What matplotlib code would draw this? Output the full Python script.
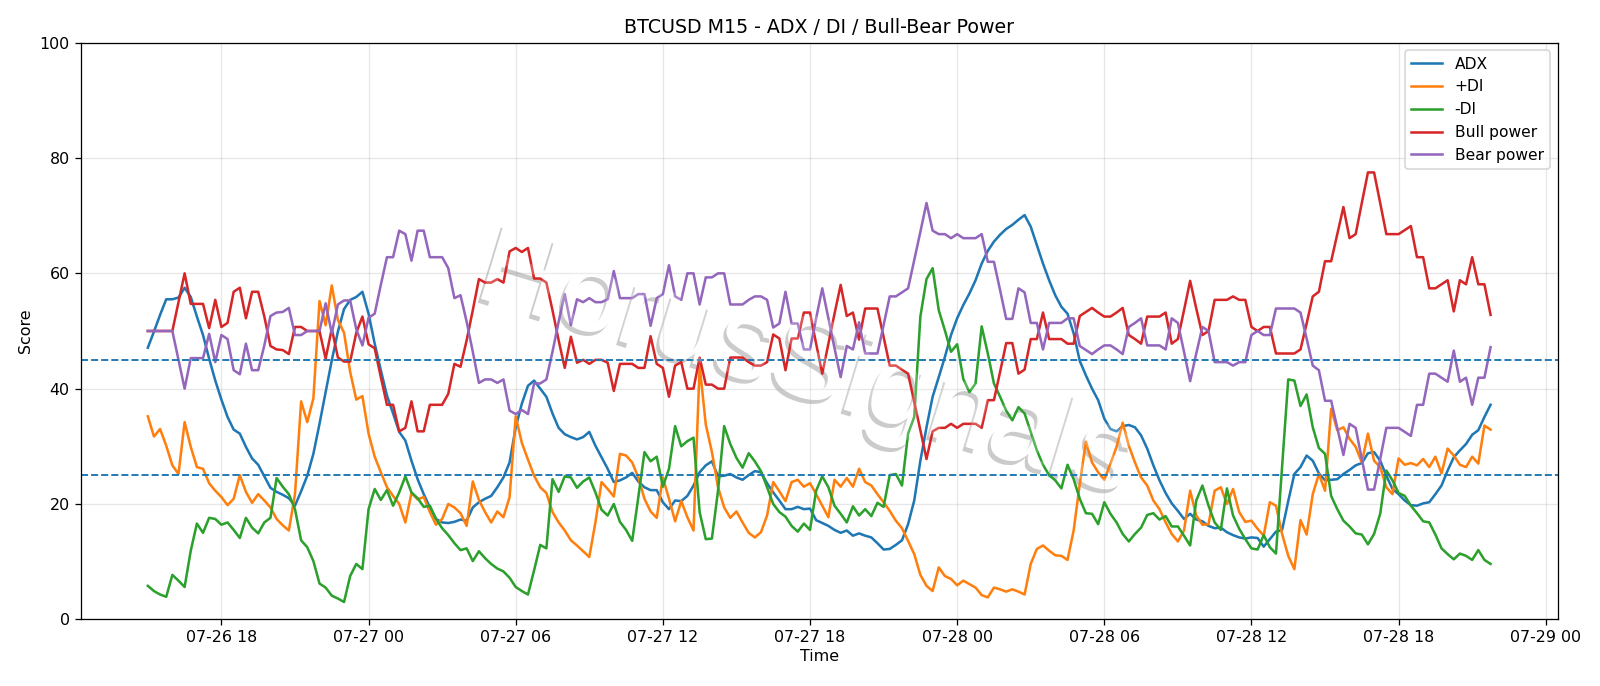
import matplotlib
matplotlib.use("Agg")
import matplotlib.pyplot as plt
import matplotlib.dates as mdates
import matplotlib.patheffects as pe
import pandas as pd

# 15-minute bars
start_time = "2025-07-26 15:00"
bar_count = 220

adx = [
    47.1, 49.9, 52.8, 55.5, 55.5, 55.8, 57.5, 55.9, 52.5, 49.3,
    45.2, 41.4, 38.1, 35.1, 32.9, 32.2, 29.9, 27.9, 26.8, 24.8,
    22.8, 22.1, 21.6, 21.0, 19.7, 22.2, 24.9, 28.7, 33.9, 39.4,
    44.9, 49.9, 53.8, 55.4, 55.9, 56.8, 53.0, 47.8, 43.2, 38.8,
    35.7, 32.5, 31.0, 27.5, 24.3, 21.7, 19.4, 17.4, 16.8, 16.7,
    16.9, 17.3, 17.1, 19.4, 20.3, 20.9, 21.4, 22.9, 24.6, 27.2,
    33.3, 37.4, 40.5, 41.4, 40.0, 38.6, 35.7, 33.2, 32.1, 31.6,
    31.2, 31.6, 32.5, 30.1, 28.1, 26.1, 23.8, 24.1, 24.6, 25.4,
    23.9, 22.9, 22.4, 22.4, 20.3, 19.1, 20.6, 20.5, 21.4, 23.2,
    25.5, 26.7, 27.4, 24.8, 24.9, 25.2, 24.6, 24.2, 25.0, 25.7,
    25.5, 23.6, 22.0, 20.6, 19.1, 19.1, 19.5, 19.1, 19.2, 17.2,
    16.7, 16.2, 15.5, 15.0, 15.4, 14.5, 14.9, 14.5, 14.2, 13.2,
    12.1, 12.2, 12.9, 13.7, 16.5, 20.6, 27.5, 33.3, 38.6, 42.0,
    45.5, 49.3, 52.2, 54.5, 56.5, 58.8, 61.7, 63.9, 65.5, 66.7,
    67.7, 68.4, 69.3, 70.1, 68.1, 64.9, 61.7, 58.8, 56.2, 54.2,
    53.0, 49.6, 44.8, 42.3, 40.0, 38.0, 34.8, 33.0, 32.6, 33.5,
    33.7, 33.3, 31.9, 29.6, 26.7, 24.1, 21.9, 20.1, 18.8, 17.4,
    18.3, 17.3, 17.0, 16.2, 15.8, 15.9, 15.1, 14.6, 14.2, 14.0,
    14.2, 14.1, 12.6, 13.9, 15.2, 15.5, 20.5, 25.2, 26.4, 28.4,
    27.5, 25.3, 24.1, 24.2, 24.3, 25.2, 25.9, 26.7, 27.1, 28.8,
    29.0, 27.5, 24.9, 22.6, 21.7, 20.6, 19.8, 19.7, 20.1, 20.3,
    21.7, 23.2, 25.8, 28.1, 29.3, 30.4, 32.0, 32.8, 35.1, 37.2,
]

plus_di = [
    35.2, 31.7, 33.0, 30.1, 26.7, 25.2, 34.2, 29.9, 26.4, 26.1,
    23.6, 22.3, 21.2, 19.8, 20.9, 25.0, 22.1, 20.2, 21.7, 20.6,
    19.4, 17.4, 16.3, 15.4, 21.7, 37.8, 34.2, 38.3, 55.2, 51.0,
    57.9, 51.9, 49.7, 42.9, 38.1, 38.7, 32.2, 28.2, 25.5, 22.9,
    21.4, 20.0, 16.8, 21.9, 20.8, 21.2, 18.6, 16.4, 17.4, 20.0,
    19.4, 18.4, 16.2, 23.9, 20.7, 18.6, 16.8, 18.7, 17.7, 21.2,
    35.2, 30.6, 27.7, 24.9, 22.9, 21.9, 18.6, 16.8, 15.4, 13.7,
    12.8, 11.8, 10.8, 16.8, 23.8, 22.6, 21.3, 28.7, 28.4, 27.2,
    24.6, 20.9, 18.7, 17.6, 24.6, 20.9, 17.0, 20.5, 17.7, 15.4,
    44.0, 33.8, 29.0, 22.9, 19.4, 17.6, 18.7, 16.8, 15.0, 14.2,
    15.1, 18.0, 23.8, 22.2, 20.5, 23.8, 24.2, 23.0, 23.6, 21.7,
    19.7, 17.7, 24.2, 23.0, 24.5, 23.0, 26.1, 23.8, 23.2, 21.7,
    20.3, 18.8, 17.1, 15.8, 13.6, 11.3, 7.7, 5.8, 4.9, 9.0,
    7.5, 7.0, 5.9, 6.7, 6.1, 5.5, 4.2, 3.8, 5.5, 5.2,
    4.8, 5.2, 4.8, 4.3, 9.6, 12.2, 12.8, 11.9, 11.1, 11.0,
    10.3, 15.4, 23.5, 30.8, 27.2, 25.5, 24.2, 27.0, 29.9, 34.1,
    30.1, 27.2, 24.6, 23.2, 20.6, 19.1, 16.8, 14.8, 13.5, 15.4,
    22.3, 18.0, 16.4, 16.5, 22.3, 22.9, 20.0, 22.6, 18.6, 16.9,
    17.1, 15.7, 14.5, 20.3, 19.7, 14.8, 11.0, 8.7, 17.2, 14.7,
    21.7, 25.2, 22.3, 36.5, 32.8, 33.3, 31.3, 29.9, 27.2, 32.2,
    27.5, 26.4, 22.9, 21.7, 27.9, 26.8, 27.1, 26.7, 27.8, 26.4,
    28.2, 25.3, 29.6, 28.4, 26.8, 26.4, 28.2, 27.0, 33.6, 32.9,
]

minus_di = [
    5.8, 4.9, 4.3, 3.9, 7.7, 6.7, 5.6, 11.9, 16.6, 15.0,
    17.6, 17.4, 16.4, 16.8, 15.5, 14.1, 17.6, 15.9, 14.9, 16.8,
    17.6, 24.5, 23.0, 21.7, 19.1, 13.7, 12.5, 10.1, 6.2, 5.5,
    4.1, 3.6, 3.0, 7.5, 9.6, 8.7, 19.1, 22.6, 20.7, 22.4,
    19.7, 22.0, 24.8, 22.0, 21.0, 19.5, 19.7, 17.4, 15.8, 14.6,
    13.2, 12.0, 12.3, 10.1, 11.8, 10.6, 9.6, 8.8, 8.3, 7.2,
    5.6, 4.9, 4.3, 8.5, 12.9, 12.3, 24.3, 22.1, 24.8, 24.6,
    22.8, 23.9, 24.6, 22.0, 19.0, 18.0, 20.0, 16.9, 15.5, 13.6,
    21.2, 29.0, 27.4, 28.2, 23.0, 26.1, 33.5, 30.0, 30.9, 31.5,
    18.6, 13.9, 14.0, 22.3, 33.5, 30.4, 28.0, 26.3, 28.8, 27.4,
    25.7, 22.9, 20.0, 18.6, 17.8, 16.2, 15.2, 16.6, 15.5, 22.3,
    24.8, 22.9, 19.7, 18.3, 16.8, 19.6, 18.0, 19.1, 17.9, 20.2,
    19.5, 25.0, 25.2, 23.2, 32.2, 35.1, 52.5, 59.0, 60.9, 53.6,
    50.1, 46.4, 47.7, 41.7, 39.4, 40.9, 50.8, 46.1, 40.9, 38.6,
    36.2, 34.5, 36.8, 35.7, 32.5, 29.3, 26.8, 25.0, 24.1, 22.7,
    26.8, 24.3, 20.9, 18.4, 18.3, 16.5, 20.3, 18.3, 16.8, 14.8,
    13.5, 14.8, 15.9, 18.1, 18.4, 17.3, 17.9, 16.1, 16.1, 14.5,
    12.8, 20.6, 23.2, 19.7, 16.8, 15.5, 22.7, 18.0, 15.7, 13.9,
    12.3, 12.1, 14.6, 12.5, 11.4, 26.4, 41.6, 41.4, 37.0, 39.0,
    33.3, 29.7, 28.7, 21.4, 19.1, 17.1, 16.1, 14.9, 14.7, 13.0,
    14.8, 18.3, 25.8, 24.1, 21.9, 21.4, 19.7, 18.4, 17.0, 16.8,
    14.7, 12.3, 11.3, 10.4, 11.4, 11.0, 10.3, 12.0, 10.3, 9.6,
]

bull_power = [
    50, 50, 50, 50, 50, 55, 60, 54.7, 54.7, 54.7,
    50.5, 55.4, 50.7, 51.4, 56.8, 57.5, 52.2, 56.8, 56.8, 52.5,
    47.4, 46.8, 46.7, 46, 50.7, 50.7, 50, 50, 50, 45.2,
    50.4, 45.4, 44.7, 44.7, 49.7, 52.5, 47.7, 47, 42, 37.2,
    37.2, 32.6, 33.2, 37.8, 32.6, 32.6, 37.2, 37.2, 37.2, 39.1,
    44.3, 43.8, 48.4, 53.6, 59, 58.4, 58.4, 59, 58.4, 63.8,
    64.4, 63.7, 64.4, 59.1, 59.1, 58.4, 53.6, 48.4, 43.6, 49,
    44.5, 45, 44.3, 45, 45, 44.5, 39.6, 44.3, 44.3, 44.3,
    43.6, 43.6, 49.1, 44.3, 43.6, 38.6, 44, 44.6, 40, 40,
    45.4, 40.7, 40.7, 40, 40, 45.4, 45.4, 45.4, 44.6, 44,
    44, 44.6, 49.4, 48.7, 43.2, 48.7, 48.7, 53.2, 53.2, 47.8,
    42.6, 47.8, 53, 58, 52.6, 53.2, 48.5, 53.9, 53.9, 53.9,
    49, 44, 44, 43.3, 42.6, 37.7, 32.8, 27.8, 32.6, 33.2,
    33.2, 33.9, 33.2, 33.9, 33.9, 33.9, 33.2, 38, 38, 42.9,
    47.9, 47.9, 42.6, 43.3, 48.6, 48.6, 53.2, 48.6, 48.6, 48.6,
    47.8, 47.8, 52.6, 53.3, 54, 53.2, 52.5, 52.5, 53.2, 54,
    49.3, 48.6, 47.8, 52.5, 52.5, 52.5, 53.2, 47.8, 48.6, 53.6,
    58.7, 53.9, 49.3, 50, 55.4, 55.4, 55.4, 56, 55.4, 55.4,
    50.7, 50, 50.7, 50.7, 46.1, 46.1, 46.1, 46.1, 46.8, 51.3,
    56, 56.8, 62.1, 62.1, 66.8, 71.5, 66.1, 66.8, 72.2, 77.5,
    77.5, 72.2, 66.8, 66.8, 66.8, 67.5, 68.2, 62.8, 62.8, 57.4,
    57.4, 58.1, 58.8, 53.4, 58.8, 58.1, 62.8, 58.1, 58.1, 52.8,
]

bear_power = [
    50, 50, 50, 50, 50, 45, 40, 45.3, 45.3, 45.3,
    49.5, 44.6, 49.3, 48.6, 43.2, 42.5, 47.8, 43.2, 43.2, 47.5,
    52.6, 53.2, 53.3, 54, 49.3, 49.3, 50, 50, 50, 54.8,
    49.6, 54.6, 55.3, 55.3, 50.3, 47.5, 52.3, 53, 58, 62.8,
    62.8, 67.4, 66.8, 62.2, 67.4, 67.4, 62.8, 62.8, 62.8, 60.9,
    55.7, 56.2, 51.6, 46.4, 41, 41.6, 41.6, 41, 41.6, 36.2,
    35.6, 36.3, 35.6, 40.9, 40.9, 41.6, 46.4, 51.6, 56.4, 51,
    55.5, 55, 55.7, 55, 55, 55.5, 60.4, 55.7, 55.7, 55.7,
    56.4, 56.4, 50.9, 55.7, 56.4, 61.4, 56, 55.4, 60, 60,
    54.6, 59.3, 59.3, 60, 60, 54.6, 54.6, 54.6, 55.4, 56,
    56, 55.4, 50.6, 51.3, 56.8, 51.3, 51.3, 46.8, 46.8, 52.2,
    57.4, 52.2, 47, 42, 47.4, 46.8, 51.5, 46.1, 46.1, 46.1,
    51, 56, 56, 56.7, 57.4, 62.3, 67.2, 72.2, 67.4, 66.8,
    66.8, 66.1, 66.8, 66.1, 66.1, 66.1, 66.8, 62, 62, 57.1,
    52.1, 52.1, 57.4, 56.7, 51.4, 51.4, 46.8, 51.4, 51.4, 51.4,
    52.2, 52.2, 47.4, 46.7, 46, 46.8, 47.5, 47.5, 46.8, 46,
    50.7, 51.4, 52.2, 47.5, 47.5, 47.5, 46.8, 52.2, 51.4, 46.4,
    41.3, 46.1, 50.7, 50, 44.6, 44.6, 44.6, 44, 44.6, 44.6,
    49.3, 50, 49.3, 49.3, 53.9, 53.9, 53.9, 53.9, 53.2, 48.7,
    44, 43.2, 37.9, 37.9, 33.2, 28.5, 33.9, 33.2, 27.8, 22.5,
    22.5, 27.8, 33.2, 33.2, 33.2, 32.5, 31.8, 37.2, 37.2, 42.6,
    42.6, 41.9, 41.2, 46.6, 41.2, 41.9, 37.2, 41.9, 41.9, 47.2,
]

threshold_levels = [25, 45]

times = pd.date_range(start_time, periods=bar_count, freq="15min")

fig = plt.figure(figsize=(1600 / 114.2857, 686 / 114.2857), dpi=114.2857)
ax = fig.add_axes([80.7 / 1600, 1 - 619.3 / 686, (1557.7 - 80.7) / 1600, (619.3 - 42.7) / 686])

line_width = 1.6
ax.plot(times, adx, linewidth=line_width, label="ADX")
ax.plot(times, plus_di, linewidth=line_width, label="+DI")
ax.plot(times, minus_di, linewidth=line_width, label="-DI")
ax.plot(times, bull_power, linewidth=line_width, label="Bull power")
ax.plot(times, bear_power, linewidth=line_width, label="Bear power")
for level in threshold_levels:
    ax.axhline(level, linestyle="--", linewidth=1.2)

ax.set_ylim(0, 100)
ax.set_title("BTCUSD M15 - ADX / DI / Bull-Bear Power", fontsize=12)
ax.set_xlabel("Time", labelpad=2.5)
ax.set_ylabel("Score")
ax.xaxis.set_major_locator(mdates.HourLocator(byhour=range(0, 24, 6)))
ax.xaxis.set_major_formatter(mdates.DateFormatter("%m-%d %H"))
ax.grid(True, alpha=0.3)
ax.legend(loc="upper right", fontsize=9.8)

# Rotated watermark: white glyphs with a grey drop shadow under the lines,
# and a faint white copy over them.
mark_xy = (472 / 1600, 1 - 296 / 686)
mark_font = "Liberation Sans"
ax.text(*mark_xy, "HorusSignals", transform=fig.transFigure, family=mark_font, fontsize=72, color="white",
        rotation=-17, rotation_mode="anchor", ha="left", va="baseline", zorder=0.5,
        path_effects=[pe.withSimplePatchShadow(offset=(-2, -2.5), shadow_rgbFace="#8c8c8c", alpha=0.45)])
ax.text(*mark_xy, "HorusSignals", transform=fig.transFigure, family=mark_font, fontsize=72, color="white", alpha=0.22,
        rotation=-17, rotation_mode="anchor", ha="left", va="baseline", zorder=5)

fig.savefig("out.png", dpi=114.2857)
